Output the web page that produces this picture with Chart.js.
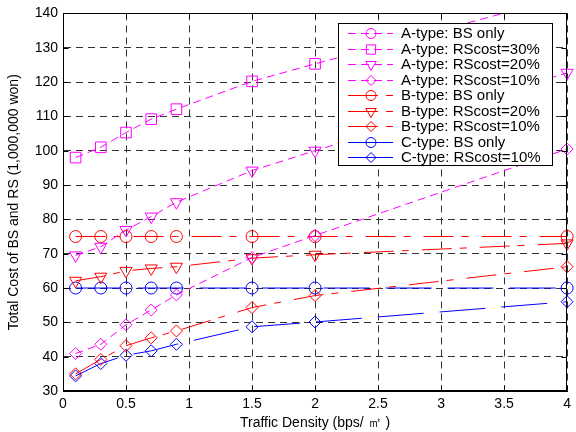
<!DOCTYPE html>
<html>
<head>
<meta charset="utf-8">
<script src="https://cdn.jsdelivr.net/npm/chart.js@4/dist/chart.umd.min.js"></script>
<style>
  html, body { margin: 0; padding: 0; background: #ffffff; }
  #c { display: block; }
</style>
</head>
<body>
<canvas id="c" width="576" height="432"></canvas>
<script>
// ---- data ----
const xValues = [0.1, 0.3, 0.5, 0.7, 0.9, 1.5, 2, 4];
const aBSonly = [150, 150, 150, 150, 150, 150, 150, 150]; // above the visible range
const aRS30 = [98, 101, 105.3, 109.2, 112.1, 120.2, 125.3, 145];
const aRS20 = [69.5, 72, 76.9, 80.8, 85, 94.2, 100, 122.7];
const aRS10 = [40.9, 43.6, 49.3, 53.6, 58, 68.9, 75.3, 100.5];
const bBSonly = [75, 75, 75, 75, 75, 75, 75, 75];
const bRS20 = [62.1, 63.3, 65, 65.7, 66.2, 68.7, 69.7, 73];
const bRS10 = [35, 39.2, 43.2, 45.5, 47.5, 54.3, 57.8, 66.2];
const cBSonly = [60, 60, 60, 60, 60, 60, 60, 60];
const cRS10 = [34.4, 38, 40.4, 41.7, 43.6, 48.7, 50.1, 56];
const seriesLabels = [
  'A-type: BS only', 'A-type: RScost=30%', 'A-type: RScost=20%', 'A-type: RScost=10%',
  'B-type: BS only', 'B-type: RScost=20%', 'B-type: RScost=10%',
  'C-type: BS only', 'C-type: RScost=10%'
];
const xTickStep = 0.5;
const yTickStep = 10;
const xTitle = 'Traffic Density (bps/ \u33A1 )';
const yTitle = 'Total Cost of BS and RS (1,000,000 won)';

// ---- styles ----
const MAG = '#ff00ff', RED = '#ff0000', BLUE = '#0000ff';
const dashA = [8, 5], dashB = [30, 8, 7, 13], dashC = [46, 16];
const FONT = "'Liberation Sans', Arial, Helvetica, sans-serif";

function pts(arr) { return arr.map((y, i) => ({ x: xValues[i], y: y })); }

const specs = [
  [aBSonly, MAG, dashA, 'circle', 6, 0],
  [aRS30, MAG, dashA, 'rect', 7.5, 0],
  [aRS20, MAG, dashA, 'triangle', 7, 180],
  [aRS10, MAG, dashA, 'rectRot', 6, 0],
  [bBSonly, RED, dashB, 'circle', 6, 0],
  [bRS20, RED, dashB, 'triangle', 7, 180],
  [bRS10, RED, dashB, 'rectRot', 6, 0],
  [cBSonly, BLUE, dashC, 'circle', 6, 0],
  [cRS10, BLUE, dashC, 'rectRot', 6, 0]
];

const datasets = specs.map((s, i) => ({
  label: seriesLabels[i],
  data: pts(s[0]),
  borderColor: s[1],
  backgroundColor: 'rgba(0,0,0,0)',
  borderWidth: 1,
  borderDash: s[2],
  pointStyle: s[3],
  pointRadius: s[4],
  pointHoverRadius: s[4],
  pointRotation: s[5],
  pointBorderColor: s[1],
  pointBackgroundColor: 'rgba(0,0,0,0)',
  pointBorderWidth: 1,
  fill: false,
  tension: 0,
  clip: { left: 10, right: 10, top: 0, bottom: 10 }
}));

const boxPlugin = {
  id: 'boxAndLegend',
  afterDraw(chart) {
    const ctx = chart.ctx;
    const ca = chart.chartArea;
    const xs = chart.scales.x, ys = chart.scales.y;
    ctx.save();
    ctx.strokeStyle = '#000';
    ctx.lineWidth = 1;
    ctx.setLineDash([]);
    const L = Math.round(ca.left) + 0.5, R = Math.round(ca.right) - 0.5;
    const T = Math.round(ca.top) + 0.5, B = Math.round(ca.bottom) - 0.5;
    ctx.strokeRect(L, T, R - L, B - T);
    // inward ticks
    ctx.beginPath();
    xs.ticks.forEach(t => {
      const px = Math.round(xs.getPixelForValue(t.value)) + 0.5;
      ctx.moveTo(px, B); ctx.lineTo(px, B - 5);
      ctx.moveTo(px, T); ctx.lineTo(px, T + 5);
    });
    ys.ticks.forEach(t => {
      const py = Math.round(ys.getPixelForValue(t.value)) + 0.5;
      ctx.moveTo(L, py); ctx.lineTo(L + 5, py);
      ctx.moveTo(R, py); ctx.lineTo(R - 5, py);
    });
    ctx.stroke();

    // legend
    const lx = 338.5, ly = 23.5, lw = 214, lh = 142;
    ctx.fillStyle = '#fff';
    ctx.fillRect(lx, ly, lw, lh);
    ctx.strokeStyle = '#000';
    ctx.strokeRect(lx, ly, lw, lh);
    ctx.font = '15px ' + FONT;
    ctx.textBaseline = 'middle';
    ctx.textAlign = 'left';
    chart.data.datasets.forEach((ds, i) => {
      const yy = Math.round(33 + i * 15.5) + 0.5;
      ctx.strokeStyle = ds.borderColor;
      ctx.lineWidth = 1;
      ctx.setLineDash(ds.borderDash);
      ctx.beginPath();
      ctx.moveTo(348, yy);
      ctx.lineTo(393, yy);
      ctx.stroke();
      ctx.setLineDash([]);
      ctx.strokeStyle = ds.borderColor;
      ctx.fillStyle = 'rgba(0,0,0,0)';
      Chart.helpers.drawPoint(ctx, {
        pointStyle: ds.pointStyle,
        rotation: ds.pointRotation,
        radius: Math.max(ds.pointRadius - 1, 4),
        borderWidth: 1
      }, 371, yy);
      ctx.fillStyle = '#000';
      ctx.fillText(ds.label, 401, yy + 0.5);
    });
    ctx.restore();
  }
};

new Chart(document.getElementById('c'), {
  type: 'line',
  data: { datasets: datasets },
  options: {
    responsive: false,
    animation: false,
    devicePixelRatio: 1,
    layout: { padding: { top: 13, right: 5, left: 0, bottom: 0 } },
    plugins: { legend: { display: false }, tooltip: { enabled: false } },
    scales: {
      x: {
        type: 'linear',
        min: 0, max: 4,
        ticks: {
          stepSize: xTickStep, color: '#000', font: { family: FONT, size: 14 }, padding: 5, maxRotation: 0,
          callback: v => String(Math.round(v * 10) / 10)
        },
        grid: { color: '#333', lineWidth: 1, drawTicks: false },
        border: { display: true, color: '#000', width: 1, dash: [7, 5] },
        title: { display: true, text: xTitle, color: '#000', font: { family: FONT, size: 14 }, padding: { top: 0, bottom: 0 } },
        afterFit(s) { s.height = 41; }
      },
      y: {
        type: 'linear',
        min: 30, max: 140,
        ticks: { stepSize: yTickStep, color: '#000', font: { family: FONT, size: 14 }, padding: 5 },
        grid: { color: '#333', lineWidth: 1, drawTicks: false },
        border: { display: true, color: '#000', width: 1, dash: [7, 5] },
        title: { display: true, text: yTitle, color: '#000', font: { family: FONT, size: 14 }, padding: { top: 6, bottom: 0 } },
        afterFit(s) { s.width = 63; }
      }
    }
  },
  plugins: [boxPlugin]
});
</script>
</body>
</html>
